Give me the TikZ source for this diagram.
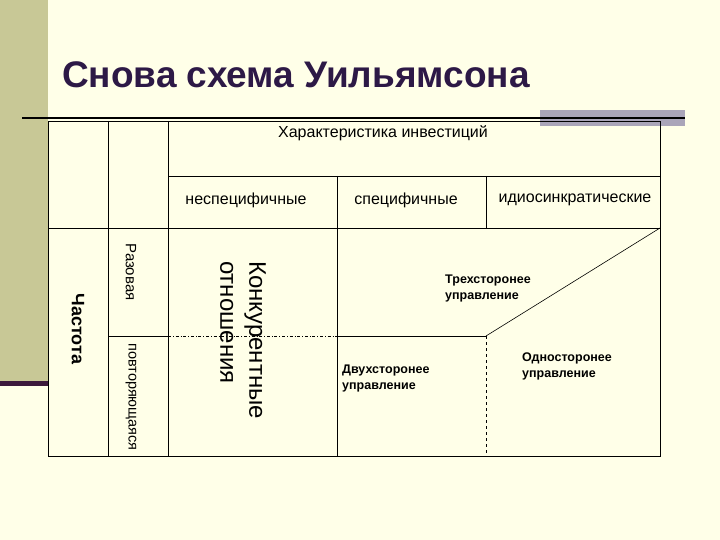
\documentclass[tikz,border=0pt]{standalone}
\usepackage{fontspec}
\setmainfont{Liberation Sans}
\begin{document}
\begin{tikzpicture}[x=1pt,y=-1pt,
  cell/.style={font=\fontsize{16}{18}\selectfont},
  lbl/.style={font=\fontsize{12.5}{16}\selectfont\bfseries,align=left,anchor=north west,inner sep=0pt},
  ln/.style={line width=0.9pt,black}]
\fill[fill={rgb,255:red,255;green,255;blue,232}] (0,0) rectangle (720,540);
\useasboundingbox (0,0) rectangle (720,540);
\fill[fill={rgb,255:red,200;green,200;blue,150}] (0,0) rectangle (48,382);
\fill[fill={rgb,255:red,60;green,25;blue,60}] (0,381) rectangle (48,386);
\fill[fill={rgb,255:red,170;green,165;blue,185}] (540,110) rectangle (685,126);
\node[anchor=west,text={rgb,255:red,45;green,25;blue,70},font=\fontsize{37}{40}\selectfont\bfseries,inner sep=0pt] (title) at (62,75) {Снова схема Уильямсона};
\draw[line width=2.2pt] (22,118) -- (685,118);
% table
\draw[ln] (48,121) rectangle (660,456);
\draw[ln] (108,121) -- (108,456);
\draw[ln] (168,121) -- (168,456);
\draw[ln] (168,176) -- (660,176);
\draw[ln] (48,228) -- (660,228);
\draw[ln] (337,176) -- (337,456);
\draw[ln] (486,176) -- (486,228);
\draw[ln] (108,336) -- (168,336);
\draw[line width=0.6pt,dash dot] (168,336) -- (337,336);
\draw[ln] (337,336) -- (486,336);
\draw[line width=0.6pt] (486,336) -- (660,228);
\draw[line width=0.6pt,dashed] (486,336) -- (486,456);
\node[cell] (hdr) at (383,133) {Характеристика инвестиций};
\node[cell] (c1) at (246,200) {неспецифичные};
\node[cell] (c2) at (406,200) {специфичные};
\node[cell] (c3) at (575,200) {идиосинкратические};
\node[rotate=-90,font=\fontsize{18}{20}\selectfont\bfseries] (freq) at (78,329) {Частота};
\node[rotate=-90,font=\fontsize{15}{17}\selectfont] (once) at (131,272) {Разовая};
\node[rotate=-90,font=\fontsize{14.5}{17}\selectfont] (rep) at (131,397) {повторяющаяся};
\node[rotate=-90,align=left,font=\fontsize{24}{29}\selectfont,inner sep=0pt] (comp) at (243,340) {Конкурентные\\отношения};
\node[lbl] (t3) at (445,275) {Трехсторонее\\управление};
\node[lbl] (t2) at (342,365) {Двухсторонее\\управление};
\node[lbl] (t1) at (522,353) {Односторонее\\управление};
\end{tikzpicture}
\end{document}
